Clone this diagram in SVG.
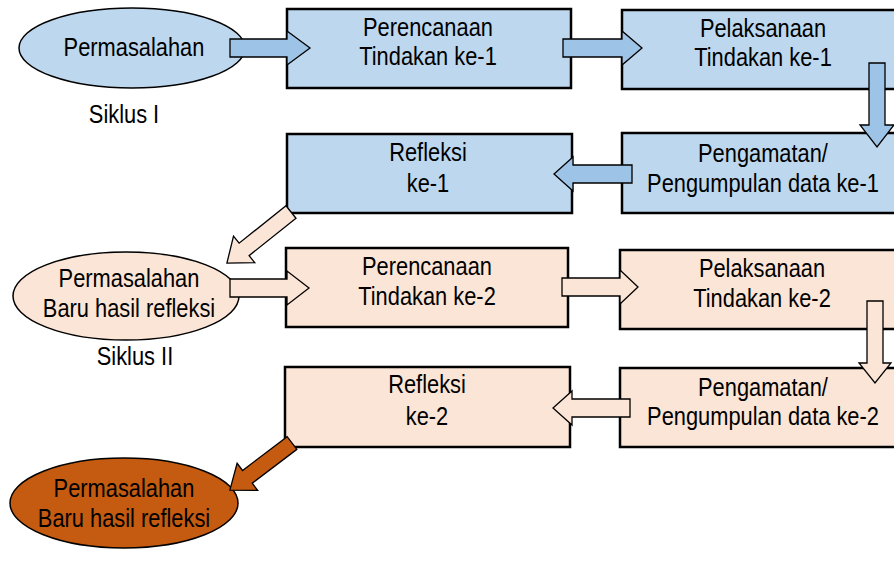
<svg xmlns="http://www.w3.org/2000/svg" width="894" height="561" viewBox="0 0 894 561">
<style>
text{font-family:"Liberation Sans",Arial,sans-serif;font-size:26px;fill:#000;text-anchor:middle}
.bbox{fill:#BDD7EE;stroke:#000;stroke-width:2.5}
.pbox{fill:#FBE5D6;stroke:#000;stroke-width:2.5}
.ell{stroke:#000;stroke-width:1.5}
.ab{fill:#9DC3E6;stroke:#000;stroke-width:1.3}
.ap{fill:#FBE5D6;stroke:#000;stroke-width:1.3}
.ao{fill:#C55A11;stroke:#000;stroke-width:1.3}
</style>
<rect width="894" height="561" fill="#fff"/>
<g id="n-perm1"><ellipse class="ell" cx="132" cy="48" rx="113" ry="40" fill="#BDD7EE"/><text transform="translate(134,56) scale(0.84,1)">Permasalahan</text></g>
<g id="lbl-siklus1"><text transform="translate(124,123) scale(0.84,1)">Siklus I</text></g>
<g id="n-renc1"><rect class="bbox" x="287" y="9" width="284" height="79"/><text transform="translate(428,36) scale(0.84,1)">Perencanaan</text><text transform="translate(428,65) scale(0.84,1)">Tindakan ke-1</text></g>
<g id="n-pel1"><rect class="bbox" x="622" y="10" width="290" height="79"/><text transform="translate(763,37) scale(0.84,1)">Pelaksanaan</text><text transform="translate(763,66) scale(0.84,1)">Tindakan ke-1</text></g>
<g id="n-peng1"><rect class="bbox" x="622" y="133" width="290" height="80"/><text transform="translate(763,162) scale(0.84,1)">Pengamatan/</text><text transform="translate(763,192) scale(0.84,1)">Pengumpulan data ke-1</text></g>
<g id="n-ref1"><rect class="bbox" x="287" y="134" width="285" height="79"/><text transform="translate(428,161) scale(0.84,1)">Refleksi</text><text transform="translate(428,192) scale(0.84,1)">ke-1</text></g>
<g id="n-perm2"><ellipse class="ell" cx="126" cy="296" rx="113" ry="44" fill="#FBE5D6"/><text transform="translate(129,287) scale(0.84,1)">Permasalahan</text><text transform="translate(129,317) scale(0.84,1)">Baru hasil refleksi</text></g>
<g id="lbl-siklus2"><text transform="translate(135,365) scale(0.84,1)">Siklus II</text></g>
<g id="n-renc2"><rect class="pbox" x="286" y="248" width="282" height="79"/><text transform="translate(427,275) scale(0.84,1)">Perencanaan</text><text transform="translate(427,305) scale(0.84,1)">Tindakan ke-2</text></g>
<g id="n-pel2"><rect class="pbox" x="620" y="250" width="290" height="79"/><text transform="translate(762,277) scale(0.84,1)">Pelaksanaan</text><text transform="translate(762,307) scale(0.84,1)">Tindakan ke-2</text></g>
<g id="n-peng2"><rect class="pbox" x="620" y="368" width="290" height="79"/><text transform="translate(763,396) scale(0.84,1)">Pengamatan/</text><text transform="translate(763,425) scale(0.84,1)">Pengumpulan data ke-2</text></g>
<g id="n-ref2"><rect class="pbox" x="285" y="367" width="285" height="80"/><text transform="translate(427,393) scale(0.84,1)">Refleksi</text><text transform="translate(427,425) scale(0.84,1)">ke-2</text></g>
<g id="n-perm3"><ellipse class="ell" cx="124" cy="503" rx="114" ry="45" fill="#C55A11"/><text transform="translate(124,497) scale(0.84,1)">Permasalahan</text><text transform="translate(124,527) scale(0.84,1)">Baru hasil refleksi</text></g>
<g id="connectors">
<polygon class="ab" transform="translate(230,48)" points="0,-9 57,-9 57,-17 80,0 57,17 57,9 0,9"/>
<polygon class="ab" transform="translate(563,48)" points="0,-9 59,-9 59,-17 79,0 59,17 59,9 0,9"/>
<polygon class="ab" transform="translate(877,63) rotate(90)" points="0,-8 62,-8 62,-17 84,0 62,17 62,8 0,8"/>
<polygon class="ab" transform="translate(632,174) rotate(180)" points="0,-9 59,-9 59,-17 78,0 59,17 59,9 0,9"/>
<polygon class="ap" transform="translate(291,212) rotate(141.4)" points="0,-8 60,-8 60,-17 82,0 60,17 60,8 0,8"/>
<polygon class="ap" transform="translate(230,288) rotate(0)" points="0,-9 57,-9 57,-17 79,0 57,17 57,9 0,9"/>
<polygon class="ap" transform="translate(562,287) rotate(0)" points="0,-9 58,-9 58,-17 76,0 58,17 58,9 0,9"/>
<polygon class="ap" transform="translate(875,301) rotate(90)" points="0,-8 62,-8 62,-16 82,0 62,16 62,8 0,8"/>
<polygon class="ap" transform="translate(630,408) rotate(180)" points="0,-9 58,-9 58,-17 77,0 58,17 58,9 0,9"/>
<polygon class="ao" transform="translate(292,443) rotate(142.8)" points="0,-8 56,-8 56,-17 78,0 56,17 56,8 0,8"/>
</g>
</svg>
